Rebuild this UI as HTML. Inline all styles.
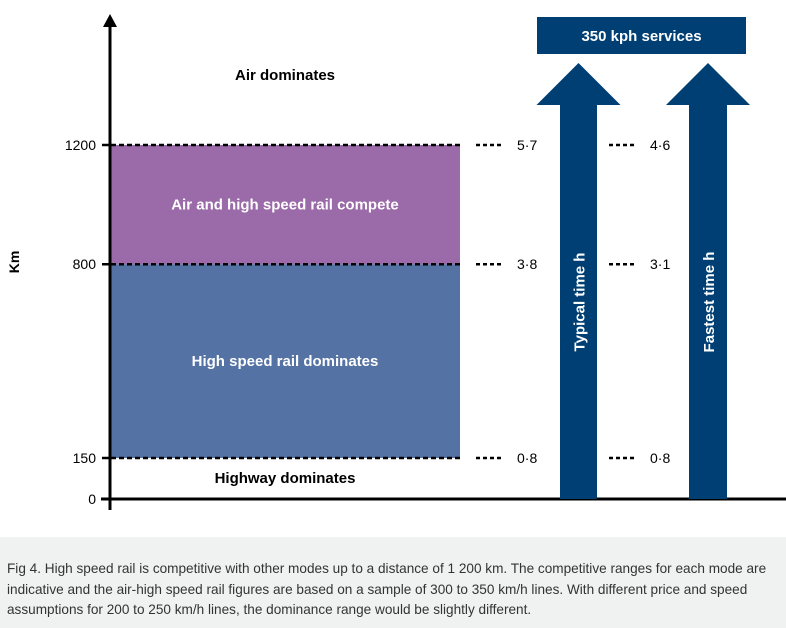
<!DOCTYPE html>
<html><head><meta charset="utf-8"><style>
body{margin:0;width:786px;height:628px;background:#fff;overflow:hidden;font-family:"Liberation Sans",Arial,sans-serif}
#cap{position:absolute;left:0;top:537px;width:786px;height:91px;background:#f0f2f1}
#cap p{margin:0;position:absolute;left:7px;top:22px;width:777px;font-family:"Liberation Sans Narrow","Liberation Sans",sans-serif;font-stretch:condensed;font-size:13.6px;line-height:20.5px;color:#333}
</style></head><body>
<svg id="chart" width="786" height="537" style="position:absolute;left:0;top:0" font-family="Liberation Sans, Arial, sans-serif"></svg>
<div id="cap"><p>Fig 4. High speed rail is competitive with other modes up to a distance of 1 200 km. The competitive ranges for each mode are indicative and the air-high speed rail figures are based on a sample of 300 to 350 km/h lines. With different price and speed assumptions for 200 to 250 km/h lines, the dominance range would be slightly different.</p></div>
<script>
const ticks=[0,150,800,1200];
const bands=[[150,800,"High speed rail dominates","#5472a3"],[800,1200,"Air and high speed rail compete","#9b6aa8"]];
const typical=[0.8,3.8,5.7];
const fastest=[0.8,3.1,4.6];
const bandKm=[150,800,1200];
const NS="http://www.w3.org/2000/svg";
const svg=document.getElementById('chart');
function y(v){ if(v<150) return 499-(v/150)*41; return 458-(v-150)*(313/1050); }
function mk(t,a,p){const e=document.createElementNS(NS,t);for(const k in a)e.setAttribute(k,a[k]);(p||svg).appendChild(e);return e;}
function txt(x,yy,s,a){const e=mk('text',Object.assign({x:x,y:yy},a));e.textContent=s;return e;}
bands.forEach(b=>{
 const r=mk('rect',{x:111,y:y(b[1]),width:349,height:y(b[0])-y(b[1]),fill:b[3]});
 
 
 const t=txt(285,(y(b[0])+y(b[1]))/2+5,b[2],{'text-anchor':'middle','font-size':'15','font-weight':'bold',fill:'#fff'});
 
 
});
bandKm.forEach(v=>{
 const l=mk('line',{x1:111,x2:460,y1:y(v),y2:y(v),stroke:'#000','stroke-width':2.5,'stroke-dasharray':'5,3'});
 
 
});
const ax=mk('line',{x1:110,x2:110,y1:25,y2:510,stroke:'#000','stroke-width':3});


mk('polygon',{points:'103,27 117,27 110,14',fill:'#000'});
const xa=mk('line',{x1:101,x2:786,y1:y(0),y2:y(0),stroke:'#000','stroke-width':3});


ticks.forEach(v=>{
 mk('line',{x1:102,x2:110,y1:y(v),y2:y(v),stroke:'#000','stroke-width':2.5});
 const t=txt(96,y(v)+5,String(v),{'text-anchor':'end','font-size':'14',fill:'#000'});
 
 
});
const yt=txt(0,0,'Km',{transform:'translate(19,262) rotate(-90)','text-anchor':'middle','font-size':'14','font-weight':'bold'});


const a1=txt(285,80,'Air dominates',{'text-anchor':'middle','font-size':'15','font-weight':'bold'});


const h1=txt(285,483,'Highway dominates',{'text-anchor':'middle','font-size':'15','font-weight':'bold'});


function arrow(cx,half,name,label){
 const p=mk('polygon',{points:`${cx-half},499 ${cx+half},499 ${cx+half},105 ${cx+42},105 ${cx},63 ${cx-42},105 ${cx-half},105`,fill:'#003f73'});
 
 
 const t=txt(0,0,label,{transform:`translate(${cx+6},302) rotate(-90)`,'text-anchor':'middle','font-size':'15','font-weight':'bold',fill:'#fff'});
 
 
}
arrow(578.5,18.5,'typical-time-arrow','Typical time h');
arrow(708,19,'fastest-time-arrow','Fastest time h');
function vals(arr,x0,name){
 arr.forEach((v,i)=>{
  const yy=y(bandKm[i]);
  mk('line',{x1:x0,x2:x0+28,y1:yy,y2:yy,stroke:'#000','stroke-width':2.5,'stroke-dasharray':'4,3'});
  const t=txt(x0+41,yy+5,v.toFixed(1).replace('.','·'),{'font-size':'14'});
  
  
 });
}
vals(typical,476,'typical');
vals(fastest,609,'fastest');
const bx=mk('rect',{x:537,y:17,width:209,height:37,fill:'#003f73'});


const bt=txt(641.5,41,'350 kph services',{'text-anchor':'middle','font-size':'15','font-weight':'bold',fill:'#fff'});


</script>
</body></html>
